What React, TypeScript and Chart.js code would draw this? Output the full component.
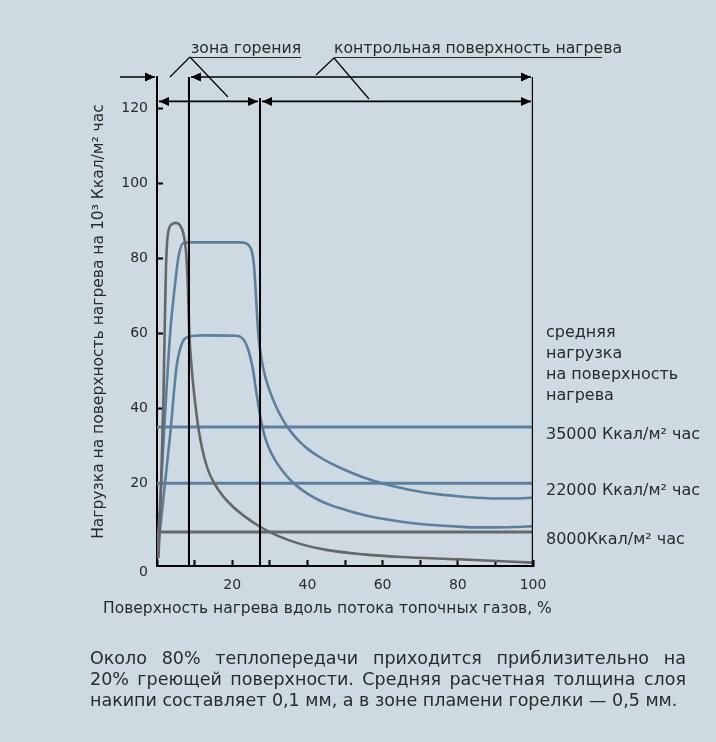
import React, { useEffect, useRef } from "react";
import { Chart, registerables } from "chart.js";

Chart.register(...registerables);

// ---------- data ----------
const grayX = [0.4, 1.0, 1.7, 2.1, 2.4, 2.7, 3.1, 3.9, 5.1, 6.1, 7.0, 7.7, 8.2, 8.6, 9.2, 9.8, 10.5, 11.2, 12, 13, 14, 15.5, 17.5, 20, 23.5, 27.5, 32, 38, 45, 55, 65, 80, 100];
const grayY = [0, 17, 42, 64, 78, 84.5, 87.5, 89, 89.4, 88.8, 86.6, 82, 73, 60, 51, 44.5, 38.5, 33.5, 29.3, 25.3, 22.4, 19.5, 16.6, 13.9, 11, 8.3, 6, 3.8, 2.2, 1, 0.3, -0.3, -1.2];

const blueHighX = [0, 3.5, 4.8, 5.7, 7, 9, 15, 22, 23.5, 24.5, 25.3, 25.8, 26.2, 26.6, 27, 27.8, 28.5, 29.5, 30.5, 32, 34, 36, 38, 40, 43, 46, 50, 55, 60, 65, 70, 75, 80, 85, 90, 95, 100];
const blueHighY = [0, 60, 73, 80.3, 84, 84.2, 84.2, 84.2, 84, 83.3, 81.5, 78, 72, 65, 59, 53, 49.5, 46, 43.2, 39.7, 36, 33.2, 31, 29.2, 27.1, 25.4, 23.5, 21.5, 19.9, 18.7, 17.7, 17, 16.5, 16.1, 15.9, 15.9, 16.1];

const blueLowX = [0, 3.5, 5.2, 6.6, 8.3, 12, 21.2, 22.5, 23.5, 24.3, 25, 25.6, 26.3, 27, 27.7, 28.5, 29.5, 30.5, 32, 34, 36, 38, 40, 43, 46, 50, 55, 60, 65, 70, 75, 80, 85, 90, 95, 100];
const blueLowY = [0, 33, 51, 57.2, 59, 59.4, 59.3, 58.8, 57.5, 55.5, 52.8, 49.9, 45, 40.5, 36.5, 33, 30, 27.8, 25.2, 22.5, 20.3, 18.6, 17.2, 15.5, 14.2, 12.9, 11.5, 10.5, 9.7, 9.1, 8.7, 8.4, 8.2, 8.2, 8.3, 8.5];

const refLevels = [35, 20, 7];
const refLabels = ["35000 Ккал/м² час", "22000 Ккал/м² час", "8000Ккал/м² час"];
const avgHeader = ["средняя", "нагрузка", "на поверхность", "нагрева"];

const combustionEnd = 8.5; // x of first vertical line
const controlStart = 27.4; // x of second vertical line
const surfaceEnd = 100;

const yTickValues = [-3.7, 20, 40, 60, 80, 100, 120]; // -3.7 carries the "0" label
const yMin = -2.1;
const yMax = 128.3;
const row2Value = 121.8;
const line2Top = 122.7;

const yTitle = "Нагрузка на поверхность нагрева на 10³ Ккал/м² час";
const xTitle = "Поверхность нагрева вдоль потока топочных газов, %";
const zoneLabel = "зона горения";
const controlLabel = "контрольная поверхность нагрева";
const paragraph = [
  "Около 80% теплопередачи приходится приблизительно на",
  "20% греющей поверхности. Средняя расчетная толщина слоя",
  "накипи составляет 0,1 мм, а в зоне пламени горелки — 0,5 мм.",
];

// ---------- style ----------
const BG = "#cddae2";
const BLUE = "#5a7f9f";
const GRAY = "#676767";
const INK = "#2a2a2a";
const FONT = "'DejaVu Sans', sans-serif";

const zip = (xs: number[], ys: number[]) => xs.map((x, i) => ({ x, y: ys[i] }));

const annotations = {
  id: "annotations",
  afterDraw(chart: any) {
    const { ctx, scales } = chart;
    const x = scales.x;
    const y = scales.y;
    const xAxis = x.getPixelForValue(0);
    const xL1 = x.getPixelForValue(combustionEnd);
    const xL2 = x.getPixelForValue(controlStart);
    const xR = x.getPixelForValue(surfaceEnd);
    const row1 = y.getPixelForValue(yMax);
    const row2 = y.getPixelForValue(row2Value);

    ctx.save();
    ctx.strokeStyle = "#000";
    ctx.fillStyle = "#000";
    ctx.lineWidth = 1.6;

    const head = (tipX: number, yy: number, dir: number) => {
      ctx.beginPath();
      ctx.moveTo(tipX, yy);
      ctx.lineTo(tipX - dir * 10, yy - 4.5);
      ctx.lineTo(tipX - dir * 10, yy + 4.5);
      ctx.closePath();
      ctx.fill();
    };
    const arrow = (x1: number, x2: number, yy: number, startHead: boolean, endHead: boolean) => {
      ctx.beginPath();
      ctx.moveTo(x1, yy);
      ctx.lineTo(x2, yy);
      ctx.stroke();
      if (startHead) head(x1, yy, -1);
      if (endHead) head(x2, yy, 1);
    };

    arrow(120, xAxis - 2, row1, false, true);
    arrow(xL1 + 2, xR - 2, row1, true, true);
    arrow(xAxis + 2, xL2 - 2, row2, true, true);
    arrow(xL2 + 2, xR - 2, row2, true, true);

    // leader lines
    ctx.lineWidth = 1.2;
    const lead = (ax: number, ay: number, bx: number, by: number) => {
      ctx.beginPath();
      ctx.moveTo(ax, ay);
      ctx.lineTo(bx, by);
      ctx.stroke();
    };
    const zx = xL1 + 1;
    lead(zx, 57, zx - 20, 77);
    lead(zx, 57, zx + 38, 97);
    const cx = 334;
    lead(cx, 58, cx - 18, 75);
    lead(cx, 58, cx + 35, 99);

    // top labels
    ctx.fillStyle = INK;
    ctx.font = `15.7px ${FONT}`;
    ctx.textAlign = "left";
    ctx.textBaseline = "middle";
    ctx.fillText(zoneLabel, zx + 1, 49);
    const zw = ctx.measureText(zoneLabel).width;
    ctx.fillText(controlLabel, cx, 49);
    const cw = ctx.measureText(controlLabel).width;
    ctx.lineWidth = 1.2;
    ctx.strokeStyle = INK;
    lead(zx, 57.5, zx + 1 + zw, 57.5);
    lead(cx, 57.5, cx + cw - 20, 57.5);

    // right labels
    ctx.font = `16px ${FONT}`;
    const rx = xR + 13;
    avgHeader.forEach((t, i) => ctx.fillText(t, rx, 333 + i * 21));
    refLevels.forEach((lv, i) => ctx.fillText(refLabels[i], rx, y.getPixelForValue(lv) + 8));

    // x axis title
    ctx.font = `15.5px ${FONT}`;
    ctx.fillText(xTitle, 103, 609);
    ctx.restore();
  },
};

export default function App() {
  const ref = useRef<HTMLCanvasElement>(null);

  useEffect(() => {
    if (!ref.current) return;
    const lineDs = (data: any[], color: string, width: number, smooth: boolean) => ({
      data,
      borderColor: color,
      borderWidth: width,
      pointRadius: 0,
      fill: false,
      cubicInterpolationMode: smooth ? ("monotone" as const) : ("default" as const),
      tension: 0,
    });
    const chart = new Chart(ref.current, {
      type: "line",
      data: {
        datasets: [
          lineDs([{ x: combustionEnd, y: yMin }, { x: combustionEnd, y: yMax }], "#000", 2, false),
          lineDs([{ x: controlStart, y: yMin }, { x: controlStart, y: line2Top }], "#000", 2, false),
          lineDs([{ x: surfaceEnd, y: yMin }, { x: surfaceEnd, y: yMax }], "#000", 2.4, false),
          lineDs(zip(grayX, grayY), GRAY, 2.6, true),
          lineDs(zip(blueHighX, blueHighY), BLUE, 2.6, true),
          lineDs(zip(blueLowX, blueLowY), BLUE, 2.6, true),
          ...refLevels.map((lv, i) =>
            lineDs([{ x: 0, y: lv }, { x: 100, y: lv }], i === 2 ? GRAY : BLUE, 3, false)
          ),
        ],
      },
      options: {
        responsive: false,
        animation: false,
        devicePixelRatio: 1,
        layout: { padding: { left: 90, top: 77, right: 183, bottom: 136 } },
        plugins: { legend: { display: false }, tooltip: { enabled: false } },
        scales: {
          x: {
            type: "linear",
            min: 0,
            max: 100,
            afterFit: (s: any) => {
              s.height = 40;
            },
            ticks: {
              stepSize: 10,
              autoSkip: false,
              maxRotation: 0,
              padding: 17,
              color: INK,
              font: { family: FONT, size: 14 },
              callback: (v: any) => (v > 0 && v % 20 === 0 ? String(v) : ""),
            },
            grid: { drawOnChartArea: false, drawTicks: true, tickLength: -6, tickWidth: 2, tickColor: "#000" },
            border: { display: true, color: "#000", width: 2 },
          },
          y: {
            type: "linear",
            min: yMin,
            max: yMax,
            afterBuildTicks: (s: any) => {
              s.ticks = yTickValues.map((value) => ({ value }));
            },
            afterFit: (s: any) => {
              s.width = 67;
            },
            ticks: {
              autoSkip: false,
              padding: 15,
              color: INK,
              font: { family: FONT, size: 14 },
              callback: (v: any) => (v < 0 ? "0" : String(v)),
            },
            grid: {
              drawOnChartArea: false,
              drawTicks: true,
              tickLength: -6,
              tickWidth: 2,
              tickColor: (c: any) => (c.tick && c.tick.value < 0 ? "rgba(0,0,0,0)" : "#000"),
            },
            border: { display: true, color: "#000", width: 2 },
            title: { display: true, text: yTitle, color: INK, font: { family: FONT, size: 15.5 }, padding: 0 },
          },
        },
      },
      plugins: [annotations],
    });
    return () => chart.destroy();
  }, []);

  return (
    <div style={{ position: "fixed", left: 0, top: 0, width: 716, height: 742, background: BG, overflow: "hidden" }}>
      <canvas ref={ref} width={716} height={742} style={{ position: "absolute", left: 0, top: 0 }} />
      <div
        style={{
          position: "absolute",
          left: 90,
          top: 648,
          width: 596,
          fontFamily: FONT,
          fontSize: 17.5,
          lineHeight: "21px",
          color: INK,
        }}
      >
        {paragraph.map((t, i) => (
          <div
            key={i}
            style={{
              textAlign: i < paragraph.length - 1 ? "justify" : "left",
              textAlignLast: i < paragraph.length - 1 ? "justify" : "left",
              whiteSpace: "nowrap",
            }}
          >
            {t}
          </div>
        ))}
      </div>
    </div>
  );
}
